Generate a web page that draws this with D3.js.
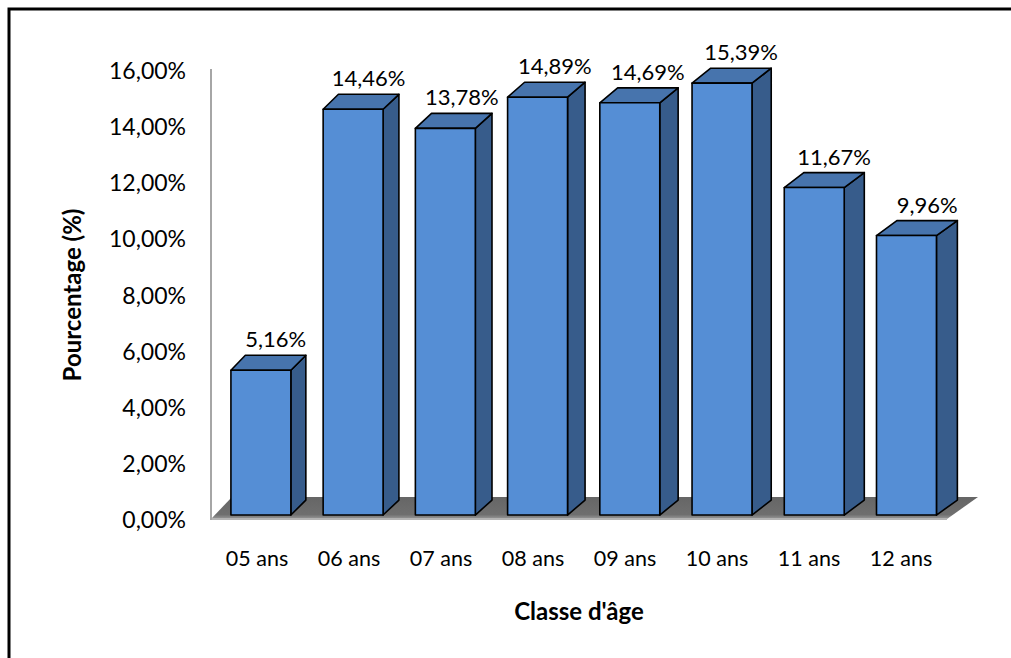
<!DOCTYPE html>
<html>
<head>
<meta charset="utf-8">
<script src="https://cdn.jsdelivr.net/npm/d3@7/dist/d3.min.js"></script>
<style>
  html, body { margin: 0; padding: 0; background: #fff; }
  svg { display: block; }
  text { font-family: Lato, "Noto Sans", sans-serif; fill: #000; }
</style>
</head>
<body>
<svg id="chart" width="1011" height="658"></svg>
<script>
// Répartition des élèves par classe d'âge
const categories = ["05 ans", "06 ans", "07 ans", "08 ans", "09 ans", "10 ans", "11 ans", "12 ans"];
const percentages = [5.16, 14.46, 13.78, 14.89, 14.69, 15.39, 11.67, 9.96];
const yTicks = [0, 2, 4, 6, 8, 10, 12, 14, 16];

const W = 1011, H = 658;
const svg = d3.select("#chart");

// plot frame (front plane of the floor)
const x0 = 211, x1 = 947, yBase = 519, yTop = 70;
const x = d3.scaleBand().domain(categories).range([x0, x1])
  .paddingInner(0.35).paddingOuter(0.175);
const y = d3.scaleLinear().domain([0, 16]).range([yBase, yTop]);

// oblique projection with a slight perspective: depth z in [0, 1]
const floorDepthY = -22;
const dxAt = px => 21 + (px - x0) / (x1 - x0) * 10;
const proj = (px, py, z) => [px + z * dxAt(px), py + z * floorDepthY];
const pts = arr => arr.map(p => p.join(",")).join(" ");

const fmt = v => v.toFixed(2).replace(".", ",") + "%";

// outer frame
svg.append("path")
  .attr("d", `M9,${H} L9,9 L${W},9`)
  .attr("fill", "none").attr("stroke", "#000").attr("stroke-width", 3);

// floor
const defs = svg.append("defs");
const g = defs.append("linearGradient").attr("id", "floorGrad")
  .attr("x1", 0).attr("y1", 0).attr("x2", 0).attr("y2", 1);
g.append("stop").attr("offset", "0%").attr("stop-color", "#666");
g.append("stop").attr("offset", "80%").attr("stop-color", "#6f6f6f");
g.append("stop").attr("offset", "100%").attr("stop-color", "#9a9a9a");

const floor = [proj(x0, yBase, 0), proj(x0, yBase, 1), proj(x1, yBase, 1), proj(x1, yBase, 0)];
svg.append("polygon").attr("points", pts(floor)).attr("fill", "url(#floorGrad)");
svg.append("line")
  .attr("x1", x0).attr("x2", x1).attr("y1", yBase).attr("y2", yBase)
  .attr("stroke", "#b4b4b4").attr("stroke-width", 2);

// vertical axis line
svg.append("line")
  .attr("x1", x0).attr("x2", x0).attr("y1", yTop - 1).attr("y2", yBase + 1)
  .attr("stroke", "#a6a6a6").attr("stroke-width", 2);

// y tick labels
svg.append("g").selectAll("text").data(yTicks).join("text")
  .attr("x", 186).attr("y", d => y(d))
  .attr("text-anchor", "end").attr("dominant-baseline", "central")
  .attr("font-size", 23)
  .text(fmt);

// 3D columns
const zf = 0.18, zb = 0.86;
const bars = svg.append("g").selectAll("g").data(categories.map((c, i) => ({ c, v: percentages[i] }))).join("g");

bars.each(function (d) {
  const gb = d3.select(this);
  const l = x(d.c), r = x(d.c) + x.bandwidth();
  const t = y(d.v), b = y(0);
  const FLT = proj(l, t, zf), FRT = proj(r, t, zf), FRB = proj(r, b, zf), FLB = proj(l, b, zf);
  const BLT = proj(l, t, zb), BRT = proj(r, t, zb), BRB = proj(r, b, zb);
  const stroke = { stroke: "#000", "stroke-width": 1.6, "stroke-linejoin": "round" };
  const face = (p, fill) => {
    const el = gb.append("polygon").attr("points", pts(p)).attr("fill", fill);
    Object.entries(stroke).forEach(([k, v]) => el.attr(k, v));
  };
  face([FRT, BRT, BRB, FRB], "#375c8b");
  face([FLT, FRT, BRT, BLT], "#4774ad");
  face([FLT, FRT, FRB, FLB], "#558ed5");

  const lab = proj((l + r) / 2, t, zb);
  gb.append("text")
    .attr("x", lab[0]).attr("y", lab[1] - 8)
    .attr("text-anchor", "middle").attr("font-size", 22)
    .text(fmt(d.v));
});

// category labels
svg.append("g").selectAll("text").data(categories).join("text")
  .attr("x", d => x(d) + x.bandwidth() / 2).attr("y", 558)
  .attr("text-anchor", "middle").attr("dominant-baseline", "central")
  .attr("font-size", 21.5)
  .text(d => d);

// axis titles
svg.append("text")
  .attr("x", 579).attr("y", 610)
  .attr("text-anchor", "middle").attr("dominant-baseline", "central")
  .attr("font-size", 24).attr("font-weight", "bold")
  .text("Classe d'âge");

svg.append("text")
  .attr("transform", "translate(71,295) rotate(-90)")
  .attr("text-anchor", "middle").attr("dominant-baseline", "central")
  .attr("font-size", 24).attr("font-weight", "bold")
  .text("Pourcentage (%)");
</script>
</body>
</html>
